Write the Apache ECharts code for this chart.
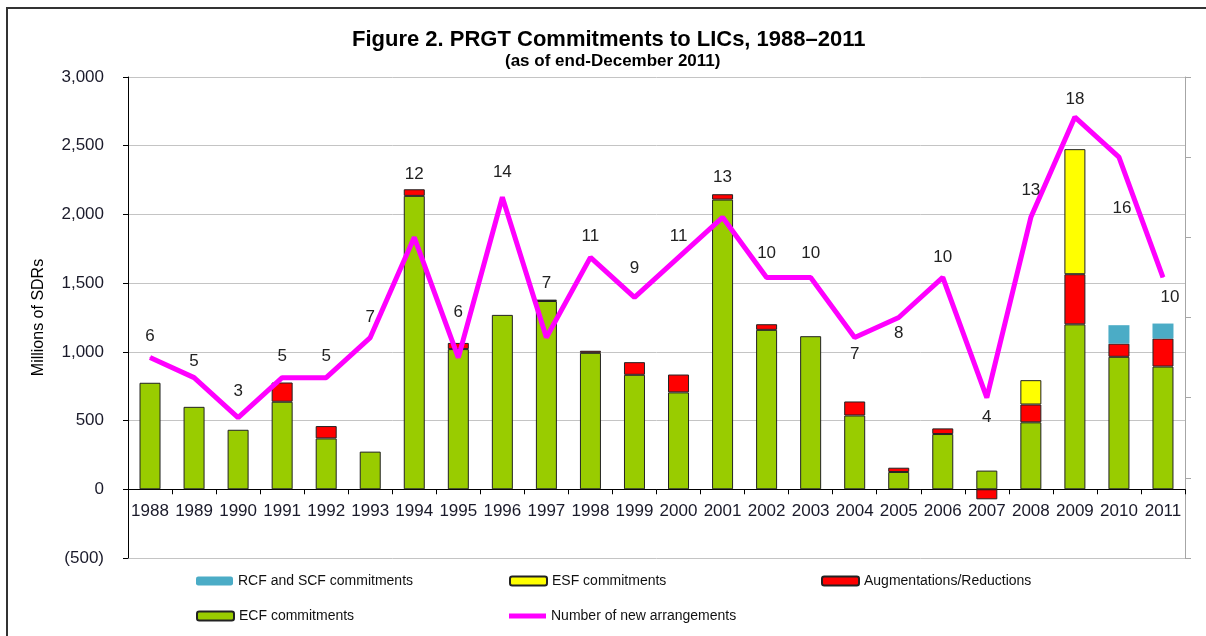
<!DOCTYPE html>
<html>
<head>
<meta charset="utf-8">
<script src="https://cdn.jsdelivr.net/npm/echarts@6/dist/echarts.min.js"></script>
<style>
html,body{margin:0;padding:0;background:#fff;}
#chart{width:1206px;height:636px;}
</style>
</head>
<body>
<div id="chart"></div>
<script>
const years = ['1988','1989','1990','1991','1992','1993','1994','1995','1996','1997','1998','1999','2000','2001','2002','2003','2004','2005','2006','2007','2008','2009','2010','2011'];
const ecfCommitments = [775,600,433,637,370,274,2135,1020,1269,1370,993,833,705,2108,1160,1114,537,126,402,136,487,1200,964,893];
const augmentations = [null,null,null,140,90,null,48,45,null,10,15,92,130,39,41,null,102,31,41,-73,130,365,96,204];
const esfCommitments = [null,null,null,null,null,null,null,null,null,null,null,null,null,null,null,null,null,null,null,null,177,910,null,null];
const rcfScfCommitments = [null,null,null,null,null,null,null,null,null,null,null,null,null,null,null,null,null,null,null,null,null,null,134,109];
const newArrangements = [6,5,3,5,5,7,12,6,14,7,11,9,11,13,10,10,7,8,10,4,13,18,16,10];
const leftTicks = [-500,0,500,1000,1500,2000,2500,3000];

// label placement (pixel offsets from each line point), style only
const labelShift = [[0,-21],[0,-16],[0,-26],[0,-21],[0,-21],[0,-20],[0,-63],[0,-45],[0,-25],[0,-54],[0,-21],[0,-29],[0,-21],[0,-40],[0,-24],[0,-24],[0,17],[0,16],[0,-20],[0,20],[0,-27],[0,-18],[3,51],[7,20]];

function fmt(v){
  const s = Math.abs(v).toString().replace(/\B(?=(\d{3})+(?!\d))/g, ',');
  return v < 0 ? '(' + s + ')' : s;
}

const FONT = 'Liberation Sans, Arial, sans-serif';
const chart = echarts.init(document.getElementById('chart'));
const border = {borderColor:'#222', borderWidth:1};

const legendBase = {
  orient:'horizontal', itemWidth:37, itemHeight:9, itemGap:5, padding:0,
  textStyle:{fontFamily:FONT, fontSize:14, color:'#111', lineHeight:14},
  selectedMode:false
};

chart.setOption({
  backgroundColor:'#fff',
  animation:false,
  textStyle:{fontFamily:FONT},
  title:[{
    text:'Figure 2. PRGT Commitments to LICs, 1988–2011',
    left:352, top:29, padding:0,
    textStyle:{fontFamily:FONT, fontSize:22, fontWeight:'bold', color:'#000'}
  },{
    text:'(as of end-December 2011)',
    left:505, top:53, padding:0,
    textStyle:{fontFamily:FONT, fontSize:17, fontWeight:'bold', color:'#000'}
  }],
  graphic:[{
    type:'rect', silent:true, z:-10,
    shape:{x:7, y:8, width:1300, height:700},
    style:{fill:'none', stroke:'#333', lineWidth:2}
  }],
  legend:[
    Object.assign({}, legendBase, {data:['RCF and SCF commitments'], left:196, top:574}),
    Object.assign({}, legendBase, {data:['ESF commitments'], left:509, top:574}),
    Object.assign({}, legendBase, {data:['Augmentations/Reductions'], left:821, top:574}),
    Object.assign({}, legendBase, {data:['ECF commitments'], left:196, top:609}),
    Object.assign({}, legendBase, {data:[{name:'Number of new arrangements', icon:'rect', itemStyle:{color:'#FF00FF', borderWidth:0}}], left:509, top:609, itemHeight:5})
  ],
  grid:{left:128, right:21, top:77, bottom:78, containLabel:false},
  xAxis:{
    type:'category', data:years, boundaryGap:true,
    axisLine:{onZero:true, lineStyle:{color:'#000', width:1}},
    axisTick:{show:true, length:5, lineStyle:{color:'#000'}},
    axisLabel:{fontFamily:FONT, fontSize:17, color:'#1a1a2a', margin:-55, interval:0}
  },
  yAxis:[{
    type:'value', min:-500, max:3000, interval:500,
    name:'Millions of SDRs', nameLocation:'middle', nameGap:81, nameRotate:90,
    nameTextStyle:{fontFamily:FONT, fontSize:16, color:'#000'},
    axisLine:{show:true, lineStyle:{color:'#000'}},
    axisTick:{show:true, length:5, lineStyle:{color:'#000'}},
    axisLabel:{fontFamily:FONT, fontSize:17, color:'#1a1a2a', margin:24, formatter:function(v){return leftTicks.indexOf(v) >= 0 ? fmt(v) : '';}},
    splitLine:{show:true, lineStyle:{color:'#c4c4c4', width:1}}
  },{
    type:'value', min:-4, max:20, interval:4, position:'right',
    axisLine:{show:true, onZero:false, lineStyle:{color:'#a6a6a6'}},
    axisTick:{show:true, length:6, lineStyle:{color:'#a6a6a6'}},
    axisLabel:{show:false},
    splitLine:{show:false}
  }],
  series:[
    {name:'ECF commitments', type:'bar', stack:'a', data:ecfCommitments, barWidth:21,
      itemStyle:Object.assign({color:'#99CC00'}, border), z:2},
    {name:'Augmentations/Reductions', type:'bar', stack:'a', data:augmentations, barWidth:21,
      itemStyle:Object.assign({color:'#FF0000'}, border), z:2},
    {name:'ESF commitments', type:'bar', stack:'a', data:esfCommitments, barWidth:21,
      itemStyle:Object.assign({color:'#FFFF00'}, border), z:2},
    {name:'RCF and SCF commitments', type:'bar', stack:'a', data:rcfScfCommitments, barWidth:21,
      itemStyle:{color:'#4BACC6', borderWidth:0}, z:2},
    {name:'Number of new arrangements', type:'line', yAxisIndex:1, z:5,
      data:newArrangements.map(function(v,i){
        return {value:v, label:{offset:labelShift[i]}};
      }),
      symbol:'circle', symbolSize:1, showSymbol:true,
      lineStyle:{color:'#FF00FF', width:5},
      itemStyle:{color:'#FF00FF'},
      label:{show:true, position:'inside', fontFamily:FONT, fontSize:17, color:'#222'}
    }
  ]
});
</script>
</body>
</html>
